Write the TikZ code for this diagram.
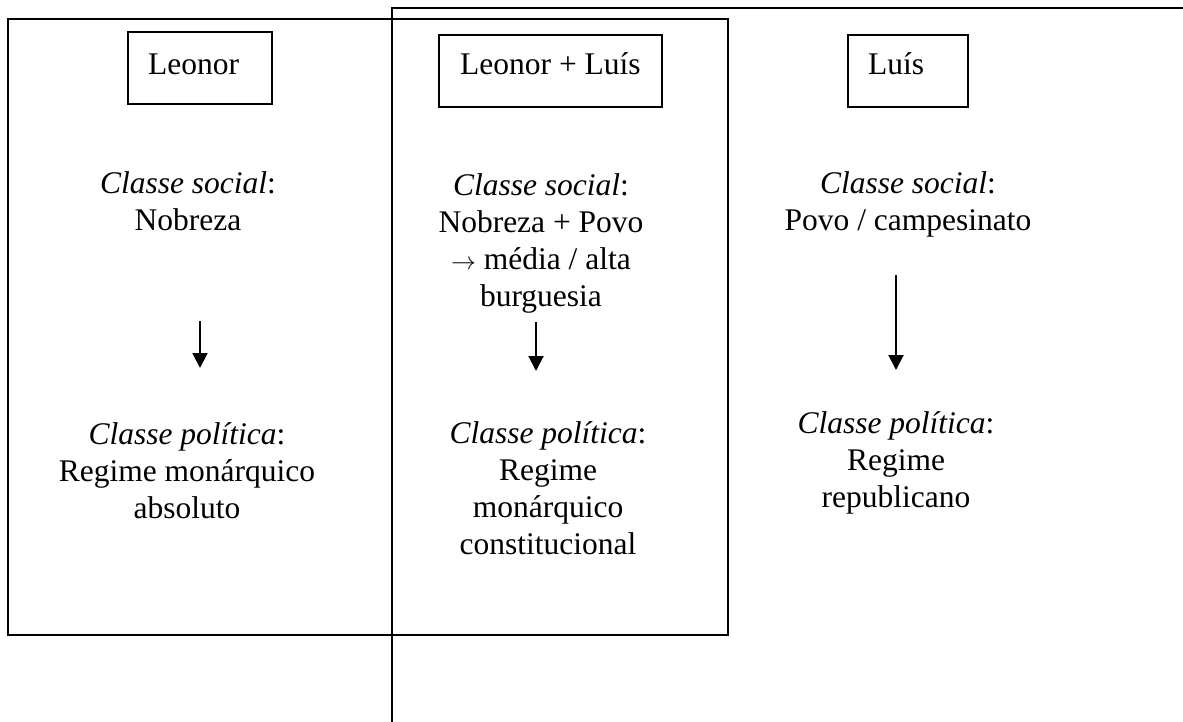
\documentclass[tikz,border=0pt]{standalone}
\usepackage{fontspec}
\setmainfont{Liberation Serif}
\usetikzlibrary{arrows.meta}
\begin{document}
\begin{tikzpicture}[x=1pt,y=-1pt,
  frame/.style={line width=2pt},
  headbox/.style={draw,line width=2pt,minimum width=#1,minimum height=72pt,inner sep=0pt},
  txt/.style={align=center,anchor=base,inner sep=0pt,font=\fontsize{31.5}{37}\selectfont},
  flow/.style={line width=2pt,-{Triangle[width=15pt,length=15pt]}}]
\useasboundingbox (0,0) rectangle (1183,722);
% frames
\draw[frame] (8,19) rectangle (728,635);
\draw[frame] (1183,8) -- (392,8) -- (392,722);
% header boxes
\node[headbox=144pt] (hL) at (200,68.5) {};
\node[txt,anchor=base west] (tL) at (148,75) {Leonor};
\node[headbox=223pt] (hM) at (550.5,71) {};
\node[txt,anchor=base west] (tM) at (460,75) {Leonor + Luís};
\node[headbox=120pt] (hR) at (908,71.5) {};
\node[txt,anchor=base west] (tR) at (868,75) {Luís};
% left column (anchor = baseline of last line)
\node[txt] (sL) at (188,230) {\textit{Classe social}:\\Nobreza};
\node[txt] (pL) at (187,518) {\textit{Classe política}:\\Regime monárquico\\absoluto};
\coordinate (aL1) at (200,321);
\coordinate (aL2) at (200,368);
\draw[flow] (aL1) -- (aL2);
% middle column
\node[txt] (sM) at (541,306) {\textit{Classe social}:\\Nobreza + Povo\\$\rightarrow$ média / alta\\burguesia};
\node[txt] (pM) at (548,554) {\textit{Classe política}:\\Regime\\monárquico\\constitucional};
\coordinate (aM1) at (536,322);
\coordinate (aM2) at (536,371);
\draw[flow] (aM1) -- (aM2);
% right column
\node[txt] (sR) at (908,230) {\textit{Classe social}:\\Povo / campesinato};
\node[txt] (pR) at (896,507) {\textit{Classe política}:\\Regime\\republicano};
\coordinate (aR1) at (896,275);
\coordinate (aR2) at (896,370);
\draw[flow] (aR1) -- (aR2);
\end{tikzpicture}
\end{document}
